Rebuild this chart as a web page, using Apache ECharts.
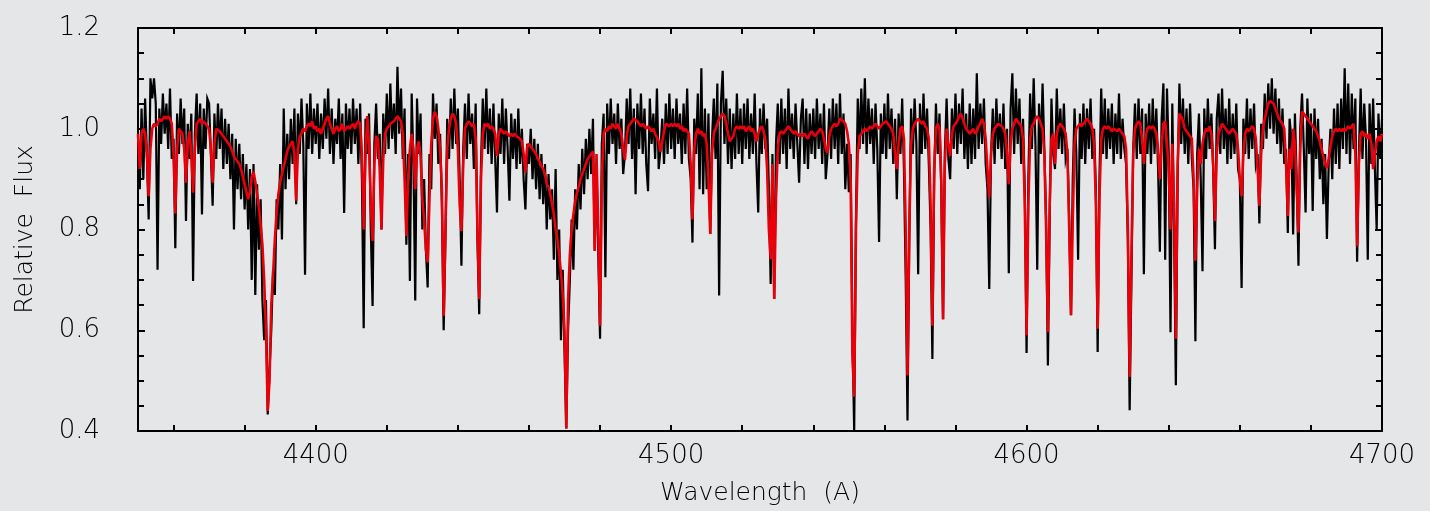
<!DOCTYPE html>
<html>
<head>
<meta charset="utf-8">
<script src="https://cdn.jsdelivr.net/npm/echarts@6/dist/echarts.min.js"></script>
<style>
html,body{margin:0;padding:0;background:#e5e6e8;}
#chart{width:1430px;height:511px;}
</style>
</head>
<body>
<div id="chart"></div>
<script>
// Spectrum sampling grid (Angstrom)
const WL_START = 4350;
const WL_STEP = 0.5;

// Axis tick values / labels
const xTickValues = [4360,4380,4400,4420,4440,4460,4480,4500,4520,4540,4560,4580,4600,4620,4640,4660,4680,4700];
const xLabelValues = [4400,4500,4600,4700];
const xAxisTitle = 'Wavelength  (A)';
const yAxisTitle = 'Relative  Flux';

// Observed spectrum (black), one row = 10 A
const observedFlux = [
0.93,0.88,1.04,0.90,1.06,0.95,0.82,1.10,1.06,1.10,1.05,0.72,1.04,0.97,1.07,0.99,1.05,0.96,1.08,0.94,
0.98,0.763,1.03,0.95,1.06,0.97,1.04,0.817,1.01,0.94,1.03,0.698,0.99,1.07,0.95,1.05,0.83,1.04,0.96,1.06,
1.05,0.95,0.847,1.03,0.94,1.05,0.96,1.04,0.92,1.02,0.93,1.01,0.90,0.99,0.80,0.98,0.88,0.97,0.86,0.95,
0.84,0.93,0.80,0.92,0.70,0.93,0.67,0.89,0.76,0.86,0.66,0.58,0.66,0.433,0.52,0.60,0.72,0.67,0.86,0.80,
0.93,0.78,1.04,0.88,0.99,0.90,1.02,0.93,1.04,0.85,1.03,0.95,1.06,0.97,0.71,1.05,0.96,1.07,0.95,1.04,
0.97,1.05,0.94,1.03,0.96,1.06,0.98,1.08,0.95,1.04,0.93,1.02,0.97,1.06,0.94,1.03,0.833,1.05,0.96,1.04,
0.95,1.06,0.97,1.04,0.93,1.05,0.90,0.604,1.02,0.95,1.03,0.80,0.648,0.97,1.05,0.94,0.99,0.80,1.03,0.95,
1.07,0.96,1.09,0.98,1.05,0.95,1.123,0.99,1.08,0.94,1.04,0.77,0.95,0.698,1.07,0.93,0.659,1.06,0.95,1.03,
0.80,0.90,0.76,0.685,0.95,0.88,1.07,0.98,1.05,0.93,0.99,0.85,0.60,0.78,1.02,0.94,1.06,0.96,1.08,0.97,
1.04,0.90,0.728,0.96,1.05,0.94,1.07,0.97,1.03,0.92,1.05,0.78,0.632,0.93,1.06,0.96,1.08,0.95,1.04,0.93,
1.05,0.94,0.834,1.03,0.95,1.06,0.93,1.04,0.96,0.857,1.03,0.94,1.02,0.92,1.04,0.93,1.00,0.90,0.84,0.97,
0.93,1.00,0.90,0.98,0.88,0.97,0.86,0.95,0.85,0.93,0.80,0.91,0.82,0.88,0.74,0.92,0.70,0.80,0.58,0.72,
0.56,0.405,0.60,0.70,0.82,0.72,0.88,0.80,0.93,0.84,0.96,0.87,0.98,0.90,1.00,0.91,1.02,0.758,0.93,0.75,
0.583,0.97,1.03,0.705,1.05,0.95,1.06,0.97,1.03,0.93,1.05,0.96,1.02,0.91,0.95,1.06,0.97,1.08,0.94,1.04,
0.87,1.05,0.96,1.07,0.95,1.04,0.93,0.876,1.06,0.97,1.03,0.94,1.08,0.92,0.96,1.02,0.93,1.05,0.95,1.07,
0.96,1.04,0.94,1.06,0.97,1.03,0.93,1.05,0.95,1.08,0.94,0.90,0.774,1.02,0.95,1.07,0.88,1.12,0.87,1.04,
0.88,1.03,0.791,0.98,1.06,0.94,1.09,0.669,1.05,1.115,0.97,1.06,0.93,1.04,0.92,1.03,0.94,1.07,0.95,1.04,
0.93,1.05,0.96,1.06,0.94,1.03,0.95,1.07,0.93,0.834,1.04,0.95,1.05,0.96,1.02,0.88,0.692,0.95,0.662,0.97,
1.05,0.93,1.06,0.95,1.04,0.92,1.08,0.96,1.03,0.94,1.05,0.97,0.893,1.02,1.06,0.93,1.04,0.92,1.03,0.95,
1.04,0.94,1.06,0.96,1.03,0.93,1.05,0.90,0.95,1.04,0.94,1.06,0.96,1.05,0.93,1.07,0.95,1.03,0.88,0.97,
0.874,0.95,0.60,0.40,0.82,1.06,0.96,1.08,0.97,1.10,0.95,1.06,0.97,1.04,0.93,1.05,0.96,0.775,1.03,0.95,
1.05,0.94,1.07,0.96,1.04,0.93,1.02,0.86,1.03,0.95,1.06,0.92,0.70,0.421,0.78,1.04,0.95,1.06,0.97,0.711,
1.05,0.95,1.07,0.96,1.04,0.93,0.80,0.543,0.90,1.05,0.95,1.03,0.88,0.622,0.95,1.06,0.94,0.90,1.04,0.96,
1.07,0.95,1.05,0.97,1.08,0.94,1.03,0.92,1.05,0.93,1.04,0.94,1.11,0.96,1.05,0.97,1.06,0.93,0.88,0.682,
0.95,1.04,0.93,1.06,0.96,1.03,0.94,1.05,0.92,1.00,0.713,1.04,1.11,0.95,1.08,0.97,1.06,0.93,1.02,0.88,
0.555,0.90,1.07,0.96,1.10,0.97,0.72,1.05,0.95,1.09,0.96,0.82,0.53,0.82,1.06,0.95,0.92,1.08,0.96,1.04,
0.95,1.05,0.94,0.96,0.82,0.63,0.90,1.04,0.95,0.74,1.03,0.94,1.05,0.93,1.04,0.96,1.06,0.94,1.00,0.88,
0.557,0.90,1.08,0.95,1.06,0.94,1.04,0.96,1.05,0.93,1.03,0.95,1.07,0.94,1.02,0.96,0.93,0.78,0.441,0.70,
0.96,1.05,0.94,1.06,0.95,1.04,0.711,1.03,0.95,1.05,0.93,1.06,0.95,1.04,0.92,0.756,1.02,1.09,0.74,1.08,
0.95,0.596,1.05,0.80,0.491,0.90,1.09,0.97,1.06,0.95,1.04,0.93,1.05,0.94,0.88,0.578,0.95,1.03,0.90,0.717,
1.04,0.94,1.06,0.96,1.03,0.92,0.761,1.02,1.07,0.95,1.08,0.96,1.04,0.93,1.06,0.94,1.03,0.95,1.05,0.92,
0.90,0.684,1.02,0.95,1.06,0.94,1.04,0.96,1.05,0.93,0.95,0.812,1.01,0.96,1.07,0.98,1.09,1.00,1.10,0.99,
1.08,0.97,1.06,0.95,1.04,0.93,0.96,0.793,1.02,0.98,0.79,1.03,0.90,0.728,1.00,1.07,0.96,0.834,1.06,0.95,
1.03,0.837,1.04,0.94,1.02,0.90,0.98,0.85,0.95,0.781,0.93,1.00,0.90,1.04,0.93,1.05,0.92,1.06,0.96,1.12,
0.95,1.09,0.93,1.07,0.96,1.06,0.736,0.95,1.08,0.94,1.05,0.98,0.74,1.05,0.93,1.06,0.92,0.80,1.03,0.94,
1.02
];

// Model spectrum (red), one row = 10 A
const modelFlux = [
0.99,0.92,0.99,1.00,0.99,0.95,0.866,0.96,1.00,1.01,1.005,1.01,1.02,1.015,1.02,1.025,1.02,1.025,1.02,1.01,
0.95,0.832,0.96,1.00,0.995,0.99,0.96,0.893,0.97,0.995,0.95,0.873,0.96,1.01,1.015,1.02,1.01,1.015,1.01,1.005,
1.00,0.96,0.893,0.97,1.00,1.00,0.995,0.99,0.985,0.98,0.975,0.97,0.965,0.955,0.945,0.94,0.935,0.93,0.92,0.905,
0.89,0.875,0.86,0.875,0.905,0.915,0.895,0.87,0.845,0.81,0.77,0.70,0.60,0.44,0.50,0.65,0.71,0.78,0.835,0.87,
0.895,0.91,0.925,0.94,0.955,0.965,0.97,0.975,0.95,0.857,0.96,0.985,0.99,1.00,0.995,1.005,1.01,1.005,1.015,1.00,
1.005,0.995,1.00,0.99,1.00,1.01,1.02,1.025,1.01,1.00,0.99,1.00,1.005,0.995,1.00,1.01,0.995,1.00,1.005,1.00,
1.005,1.01,1.00,1.01,1.015,1.01,0.95,0.80,0.95,1.025,0.97,0.85,0.777,0.93,0.985,0.98,0.92,0.80,0.94,0.99,
1.00,1.005,1.01,1.01,1.015,1.02,1.025,1.02,1.015,0.99,0.90,0.787,0.90,0.96,0.99,0.96,0.88,0.96,0.975,0.945,
0.86,0.82,0.76,0.735,0.86,0.97,1.02,1.034,1.025,1.00,0.96,0.88,0.629,0.80,0.96,1.00,1.02,1.03,1.025,1.01,
0.96,0.85,0.797,0.93,1.00,1.01,1.015,1.01,1.005,1.01,0.98,0.80,0.662,0.90,0.99,1.01,1.005,1.01,1.00,1.005,
1.00,0.99,0.946,0.99,1.00,0.995,0.99,0.995,0.99,0.985,0.99,0.985,0.99,0.985,0.985,0.98,0.975,0.95,0.913,0.965,
0.97,0.965,0.96,0.955,0.95,0.94,0.935,0.925,0.92,0.91,0.89,0.885,0.87,0.85,0.83,0.80,0.78,0.75,0.715,0.67,
0.60,0.405,0.66,0.75,0.80,0.83,0.855,0.873,0.885,0.90,0.91,0.92,0.93,0.94,0.945,0.95,0.955,0.758,0.95,0.80,
0.609,0.90,0.99,1.00,0.995,1.005,1.00,1.01,1.005,1.00,1.01,1.00,0.99,0.96,0.938,0.985,1.005,1.01,1.015,1.02,
1.02,1.015,1.01,1.005,1.01,1.005,1.00,1.005,1.00,0.995,1.00,0.99,0.99,0.975,0.955,0.975,0.995,1.01,1.01,1.005,
1.01,1.005,1.01,1.005,1.01,1.00,1.005,0.995,1.00,0.995,0.99,0.93,0.82,0.96,0.99,1.00,0.99,0.995,0.985,0.99,
0.97,0.90,0.791,0.95,0.99,1.00,1.01,1.02,1.025,1.03,1.025,1.01,0.99,0.975,0.972,0.985,1.00,1.005,1.00,1.005,
1.00,1.005,0.995,1.00,1.005,0.995,1.00,0.99,0.975,0.99,1.00,1.005,0.995,0.98,0.92,0.80,0.741,0.93,0.662,0.86,
0.96,0.99,0.995,0.99,0.995,1.00,1.005,1.00,0.995,0.99,0.995,0.99,0.985,0.99,0.985,0.99,0.985,0.98,0.99,0.995,
0.99,0.985,0.99,0.995,1.00,0.995,0.98,0.96,0.952,0.985,1.00,1.005,1.01,1.005,1.01,1.02,1.02,1.015,1.01,0.995,
0.97,0.90,0.55,0.468,0.80,0.95,0.985,0.99,0.995,1.00,0.995,1.00,1.005,1.00,1.005,1.01,1.005,1.00,1.005,1.01,
1.01,1.015,1.01,1.005,1.00,0.99,0.95,0.92,0.97,1.00,1.005,0.98,0.80,0.51,0.80,0.97,1.00,1.01,1.015,1.02,
1.015,1.01,1.015,1.005,1.00,0.98,0.85,0.609,0.92,1.00,1.01,1.00,0.90,0.622,0.93,1.00,0.97,0.946,0.99,1.005,
1.01,1.015,1.025,1.03,1.02,1.01,1.00,0.995,0.99,0.995,1.00,0.99,0.995,1.005,1.01,1.02,1.01,0.98,0.92,0.863,
0.95,0.99,1.00,1.005,1.01,1.01,1.005,1.00,0.99,0.95,0.89,0.97,1.00,1.01,1.02,1.015,1.01,1.005,0.98,0.85,
0.59,0.85,0.98,1.005,1.01,1.02,1.025,1.02,1.01,1.00,0.95,0.80,0.596,0.85,0.98,0.99,0.93,0.99,1.005,1.01,
1.005,1.00,0.99,0.95,0.80,0.63,0.82,0.97,1.00,1.005,1.01,1.005,1.01,1.015,1.02,1.015,1.01,1.00,0.97,0.85,
0.603,0.86,0.98,1.00,1.005,1.00,1.005,1.00,0.995,1.00,1.00,0.995,1.00,0.995,0.99,0.985,0.96,0.80,0.507,0.75,
0.95,1.00,1.01,1.015,1.01,0.98,0.93,0.985,1.00,1.005,1.00,1.005,1.00,0.99,0.96,0.90,0.97,1.01,1.015,0.97,
0.92,0.80,0.97,0.85,0.583,0.93,1.03,1.025,1.015,1.00,0.995,0.99,0.985,0.98,0.90,0.738,0.88,0.96,0.93,0.97,
0.99,1.00,0.995,1.005,0.99,0.93,0.817,0.95,0.99,1.00,1.01,1.005,1.00,0.995,0.99,0.995,1.00,0.995,0.99,0.96,
0.90,0.866,0.95,0.99,1.00,0.995,1.00,1.005,1.00,0.98,0.92,0.847,0.95,1.00,1.02,1.035,1.05,1.055,1.058,1.05,
1.04,1.03,1.02,1.015,1.01,1.00,0.93,0.827,0.96,0.92,1.00,0.97,0.88,0.794,0.96,1.034,1.03,1.025,1.02,1.015,
1.01,1.005,1.00,0.995,0.985,0.975,0.96,0.945,0.93,0.922,0.94,0.965,0.985,0.995,1.00,0.995,1.00,0.995,1.00,0.995,
1.00,1.005,1.00,1.005,1.01,0.95,0.767,0.93,0.99,0.995,0.985,0.99,0.98,0.99,0.97,0.92,0.95,0.975,0.985,0.975,
0.99
];

const toPairs = arr => arr.map((v, i) => [WL_START + i * WL_STEP, v]);

const FONT = "'DejaVu Sans', 'Liberation Sans', sans-serif";
const TXT = '#000000';
const frameLine = { show: true, onZero: false, lineStyle: { color: '#000', width: 2 } };
const tickStyle = { color: '#000', width: 2 };

const chart = echarts.init(document.getElementById('chart'), null, { renderer: 'canvas' });
chart.setOption({
  backgroundColor: '#e5e6e8',
  animation: false,
  grid: { left: 138, top: 28, width: 1244, height: 404, containLabel: false },
  xAxis: [
    {
      type: 'value', min: 4350, max: 4700, position: 'bottom',
      name: xAxisTitle, nameLocation: 'middle', nameGap: 50,
      nameTextStyle: { fontFamily: FONT, fontSize: 25, color: TXT, fontWeight: 200 },
      axisLine: frameLine,
      axisTick: { show: true, inside: true, length: 6, customValues: xTickValues, lineStyle: tickStyle },
      axisLabel: { show: true, customValues: xLabelValues, margin: 12, fontFamily: FONT, fontSize: 26, color: TXT, fontWeight: 200, formatter: v => String(v) },
      splitLine: { show: false }
    },
    {
      type: 'value', min: 4350, max: 4700, position: 'top',
      axisLine: frameLine,
      axisTick: { show: true, inside: true, length: 6, customValues: xTickValues, lineStyle: tickStyle },
      axisLabel: { show: false },
      splitLine: { show: false }
    }
  ],
  yAxis: [
    {
      type: 'value', min: 0.4, max: 1.2, interval: 0.2, position: 'left',
      name: yAxisTitle, nameLocation: 'middle', nameGap: 100,
      nameTextStyle: { fontFamily: FONT, fontSize: 25, color: TXT, fontWeight: 200 },
      axisLine: frameLine,
      axisTick: { show: true, inside: true, length: 7, lineStyle: tickStyle },
      minorTick: { show: true, splitNumber: 4, length: 6, lineStyle: tickStyle },
      axisLabel: { margin: 38, fontFamily: FONT, fontSize: 26, color: TXT, fontWeight: 200, formatter: v => v.toFixed(1) },
      splitLine: { show: false }
    },
    {
      type: 'value', min: 0.4, max: 1.2, interval: 0.2, position: 'right',
      axisLine: frameLine,
      axisTick: { show: true, inside: true, length: 7, lineStyle: tickStyle },
      minorTick: { show: true, splitNumber: 4, length: 6, lineStyle: tickStyle },
      axisLabel: { show: false },
      splitLine: { show: false }
    }
  ],
  series: [
    {
      name: 'Observed', type: 'line', xAxisIndex: 0, yAxisIndex: 0,
      data: toPairs(observedFlux), showSymbol: false, symbol: 'none',
      lineStyle: { color: '#000000', width: 2.2, join: 'miter' }, z: 2, silent: true
    },
    {
      name: 'Model', type: 'line', xAxisIndex: 0, yAxisIndex: 0,
      data: toPairs(modelFlux), showSymbol: false, symbol: 'none',
      lineStyle: { color: '#e8000a', width: 2.6 }, z: 3, silent: true
    }
  ]
});
</script>
</body>
</html>
